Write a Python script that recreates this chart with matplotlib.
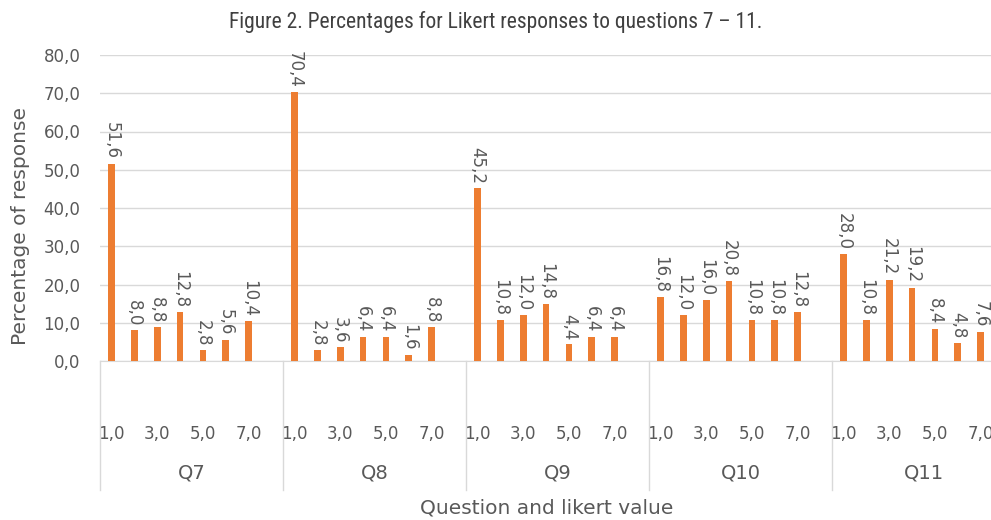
import matplotlib.pyplot as plt
from matplotlib import font_manager
from matplotlib.transforms import blended_transform_factory

questions = ["Q7", "Q8", "Q9", "Q10", "Q11"]
likert = [1, 2, 3, 4, 5, 6, 7]
q7 = [51.6, 8.0, 8.8, 12.8, 2.8, 5.6, 10.4]
q8 = [70.4, 2.8, 3.6, 6.4, 6.4, 1.6, 8.8]
q9 = [45.2, 10.8, 12.0, 14.8, 4.4, 6.4, 6.4]
q10 = [16.8, 12.0, 16.0, 20.8, 10.8, 10.8, 12.8]
q11 = [28.0, 10.8, 21.2, 19.2, 8.4, 4.8, 7.6]
series = [q7, q8, q9, q10, q11]
y_ticks = [0, 10, 20, 30, 40, 50, 60, 70, 80]

orange = "#ED7D31"
grey = "#595959"
plt.rcParams["font.family"] = ["DejaVu Sans"]

fig = plt.figure(figsize=(9.91, 5.2), dpi=100)
# the plot area runs past the right edge of the picture, as in the original
ax = fig.add_axes([100 / 991, 1 - 361 / 520, 915 / 991, 306 / 520])

# each question takes 8 category slots, the last one is left empty
slots = len(likert) + 1
xs, vals = [], []
for g, vals_q in enumerate(series):
    for i, v in enumerate(vals_q):
        xs.append(g * slots + i + 0.5)
        vals.append(v)

ax.bar(xs, vals, width=0.3, color=orange, zorder=3)
for x, v in zip(xs, vals):
    ax.annotate(f"{v:.1f}".replace(".", ","), (x, v), xytext=(0, 3),
                textcoords="offset points", rotation=270, ha="center",
                va="bottom", fontsize=12, color=grey)

ax.set_xlim(0, slots * len(questions))
ax.set_ylim(0, 80)
ax.set_yticks(y_ticks)
ax.set_yticklabels([f"{t:.1f}".replace(".", ",") for t in y_ticks])
ax.yaxis.grid(True, color="#d9d9d9", lw=1, zorder=0)

tick_pos, tick_lab = [], []
for g in range(len(questions)):
    for i, l in enumerate(likert):
        if l % 2 == 1:
            tick_pos.append(g * slots + i + 0.5)
            tick_lab.append(f"{l:.1f}".replace(".", ","))
ax.set_xticks(tick_pos)
ax.set_xticklabels(tick_lab)
ax.tick_params(axis="x", length=0, pad=46, labelsize=12, labelcolor=grey)
ax.tick_params(axis="y", length=0, pad=14, labelsize=12, labelcolor=grey)

for s in ["top", "right", "left"]:
    ax.spines[s].set_visible(False)
ax.spines["bottom"].set_color("#d9d9d9")

trans = blended_transform_factory(ax.transData, ax.transAxes)
for g in range(len(questions) + 1):
    ax.plot([g * slots, g * slots], [0, -0.42], transform=trans,
            color="#d9d9d9", lw=1, clip_on=False)
for g, q in enumerate(questions):
    ax.text(g * slots + slots / 2, -0.366, q, transform=trans, ha="center",
            va="center", fontsize=14, color=grey)

ax.set_xlabel("Question and likert value", fontsize=14.5, color=grey)
ax.xaxis.set_label_coords(0.4885, -0.48)
ax.xaxis.label.set_va("center")
ax.set_ylabel("Percentage of response", fontsize=14.5, color=grey)
ax.yaxis.set_label_coords(-0.087, 0.44)
ax.yaxis.label.set_va("center")

# title is set in a narrow face in the original; use one if there is any
title_kw = dict(family=["DejaVu Sans"], fontsize=12.6)
fonts = font_manager.fontManager.ttflist
names = {f.name for f in fonts}
for cand in ["Liberation Sans Narrow", "Roboto Condensed", "Open Sans Condensed"]:
    if cand in names:
        title_kw = dict(family=[cand, "DejaVu Sans"], fontsize=15.5)
        break

fig.text(0.5, 1 - 22 / 520,
         "Figure 2. Percentages for Likert responses to questions 7 \u2013 11.",
         ha="center", va="center", color="#404040", **title_kw)

fig.savefig("out.png", dpi=100)
